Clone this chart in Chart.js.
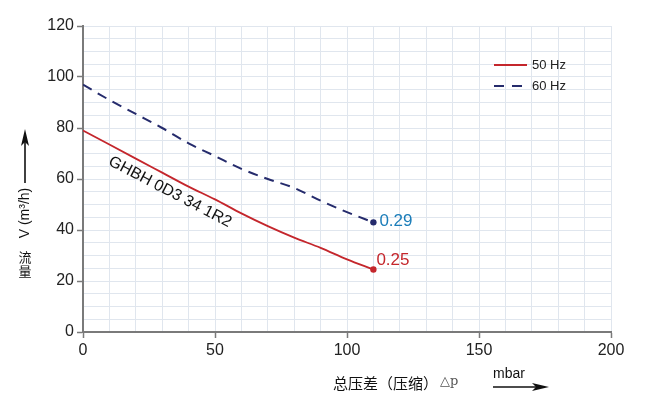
<!DOCTYPE html>
<html>
<head>
<meta charset="utf-8">
<script src="https://cdn.jsdelivr.net/npm/chart.js@4/dist/chart.umd.min.js"></script>
<style>
  html, body { margin: 0; padding: 0; background: #ffffff; }
  #wrap { width: 650px; height: 399px; position: relative; }
</style>
</head>
<body>
<div id="wrap"><canvas id="c" width="650" height="399"></canvas></div>
<script>
// ---- data ----
const pressure = [0, 10, 20, 30, 40, 50, 60, 70, 80, 90, 100, 110];          // mbar
const flow50Hz = [79, 73.5, 68, 62.5, 57, 52, 46.5, 41.5, 37, 33, 28.5, 24.5]; // m3/h
const flow60Hz = [97, 91, 85.5, 80, 74, 69, 64, 60, 56.5, 51.5, 47, 43];       // m3/h
const seriesNames = ["50 Hz", "60 Hz"];
const endLabels = ["0.25", "0.29"];
const modelName = "GHBH 0D3 34 1R2";
const xTickLabels = [0, 50, 100, 150, 200];
const yTickLabels = [0, 20, 40, 60, 80, 100, 120];
const yTitleCN = ["流", "量"];
const yTitle = "V (m³/h)";
const xTitle = "总压差（压缩）";
const xTitleSym = "△p";
const xUnit = "mbar";

const RED = "#c4262c";
const NAVY = "#252b6c";
const BLUE_LABEL = "#1b7db9";
const AXIS = "#7a7a7a";
const GRID = "#e0e6ee";
const FONT = "'Liberation Sans', Arial, sans-serif";
const CJK = "'Noto Sans CJK SC', sans-serif";

function pts(xs, ys) { return xs.map((x, i) => ({ x: x, y: ys[i] })); }
function lastRadius(ctx) { return ctx.dataIndex === pressure.length - 1 ? 3.2 : 0; }

const annotations = {
  id: "annotations",
  afterDatasetsDraw(chart) {
    const ctx = chart.ctx;
    const xs = chart.scales.x, ys = chart.scales.y;
    ctx.save();

    // legend
    const lx = 494, ly1 = 65, ly2 = 86;
    ctx.lineWidth = 2;
    ctx.strokeStyle = RED;
    ctx.beginPath(); ctx.moveTo(lx, ly1); ctx.lineTo(lx + 33, ly1); ctx.stroke();
    ctx.strokeStyle = NAVY;
    ctx.setLineDash([10, 8]);
    ctx.beginPath(); ctx.moveTo(lx, ly2); ctx.lineTo(lx + 33, ly2); ctx.stroke();
    ctx.setLineDash([]);
    ctx.fillStyle = "#222";
    ctx.font = "13px " + FONT;
    ctx.textAlign = "left"; ctx.textBaseline = "middle";
    ctx.fillText(seriesNames[0], lx + 38, ly1);
    ctx.fillText(seriesNames[1], lx + 38, ly2);

    // end labels
    const li = pressure.length - 1;
    ctx.font = "17px " + FONT;
    ctx.fillStyle = RED;
    ctx.textBaseline = "middle";
    ctx.fillText(endLabels[0], xs.getPixelForValue(pressure[li]) + 3, ys.getPixelForValue(flow50Hz[li]) - 9);
    ctx.fillStyle = BLUE_LABEL;
    ctx.fillText(endLabels[1], xs.getPixelForValue(pressure[li]) + 6, ys.getPixelForValue(flow60Hz[li]) - 1);

    // model name along the curve
    ctx.save();
    ctx.translate(170, 192);
    ctx.rotate(27.5 * Math.PI / 180);
    ctx.fillStyle = "#111";
    ctx.font = "16px " + FONT;
    ctx.textAlign = "center"; ctx.textBaseline = "middle";
    ctx.fillText(modelName, 0, 0);
    ctx.restore();

    // y title: arrow + rotated text + stacked CJK
    ctx.strokeStyle = "#111"; ctx.fillStyle = "#111";
    ctx.lineWidth = 1.6;
    ctx.beginPath(); ctx.moveTo(25, 183); ctx.lineTo(25, 140); ctx.stroke();
    ctx.beginPath(); ctx.moveTo(25, 129); ctx.lineTo(21, 146); ctx.lineTo(25, 142); ctx.lineTo(29, 146); ctx.closePath(); ctx.fill();
    ctx.save();
    ctx.translate(25, 213);
    ctx.rotate(-Math.PI / 2);
    ctx.font = "14px " + FONT;
    ctx.textAlign = "center"; ctx.textBaseline = "middle";
    ctx.fillText(yTitle, 0, 0);
    ctx.restore();
    ctx.font = "13px " + CJK;
    ctx.textAlign = "center"; ctx.textBaseline = "middle";
    ctx.fillText(yTitleCN[0], 25, 257);
    ctx.fillText(yTitleCN[1], 25, 271);

    // x title
    ctx.textAlign = "left";
    ctx.font = "15px " + CJK;
    ctx.fillText(xTitle, 333, 383);
    const w = ctx.measureText(xTitle).width;
    ctx.font = "13px 'DejaVu Serif', serif";
    ctx.fillStyle = "#555";
    ctx.fillText(xTitleSym, 333 + w + 2, 382);
    ctx.fillStyle = "#111";
    ctx.font = "14px " + FONT;
    ctx.fillText(xUnit, 493, 374);
    ctx.lineWidth = 1.6;
    ctx.beginPath(); ctx.moveTo(493, 387); ctx.lineTo(540, 387); ctx.stroke();
    ctx.beginPath(); ctx.moveTo(549, 387); ctx.lineTo(532, 383); ctx.lineTo(536, 387); ctx.lineTo(532, 391); ctx.closePath(); ctx.fill();

    ctx.restore();
  }
};

new Chart(document.getElementById("c"), {
  type: "line",
  data: {
    datasets: [
      {
        label: seriesNames[0],
        data: pts(pressure, flow50Hz),
        borderColor: RED, backgroundColor: RED,
        borderWidth: 1.8, cubicInterpolationMode: "monotone",
        pointRadius: lastRadius, pointBorderWidth: 0,
        pointBackgroundColor: RED
      },
      {
        label: seriesNames[1],
        data: pts(pressure, flow60Hz),
        borderColor: NAVY, backgroundColor: NAVY,
        borderWidth: 2, borderDash: [10, 7], cubicInterpolationMode: "monotone",
        pointRadius: lastRadius, pointBorderWidth: 0,
        pointBackgroundColor: NAVY
      }
    ]
  },
  options: {
    responsive: false,
    animation: false,
    layout: { padding: { left: 0, right: 39, top: 26, bottom: 0 } },
    plugins: { legend: { display: false }, tooltip: { enabled: false } },
    scales: {
      x: {
        type: "linear", min: 0, max: 200,
        afterFit(s) { s.height = 67; },
        ticks: {
          stepSize: 10, padding: 3, autoSkip: false, maxRotation: 0, minRotation: 0,
          color: "#222", font: { size: 16, family: FONT },
          callback: v => xTickLabels.includes(v) ? String(v) : ""
        },
        grid: {
          color: GRID, lineWidth: 1, tickLength: 6,
          tickColor: c => xTickLabels.includes(c.tick.value) ? AXIS : "rgba(0,0,0,0)",
          tickWidth: 1.5
        },
        border: { color: AXIS, width: 2 }
      },
      y: {
        type: "linear", min: 0, max: 120,
        afterFit(s) { s.width = 83; },
        ticks: {
          stepSize: 5, padding: 3, autoSkip: false,
          color: "#222", font: { size: 16, family: FONT },
          callback: v => yTickLabels.includes(v) ? String(v) : ""
        },
        grid: {
          color: GRID, lineWidth: 1, tickLength: 6,
          tickColor: c => yTickLabels.includes(c.tick.value) ? AXIS : "rgba(0,0,0,0)",
          tickWidth: 1.5
        },
        border: { color: AXIS, width: 2 }
      }
    }
  },
  plugins: [annotations]
});
</script>
</body>
</html>
